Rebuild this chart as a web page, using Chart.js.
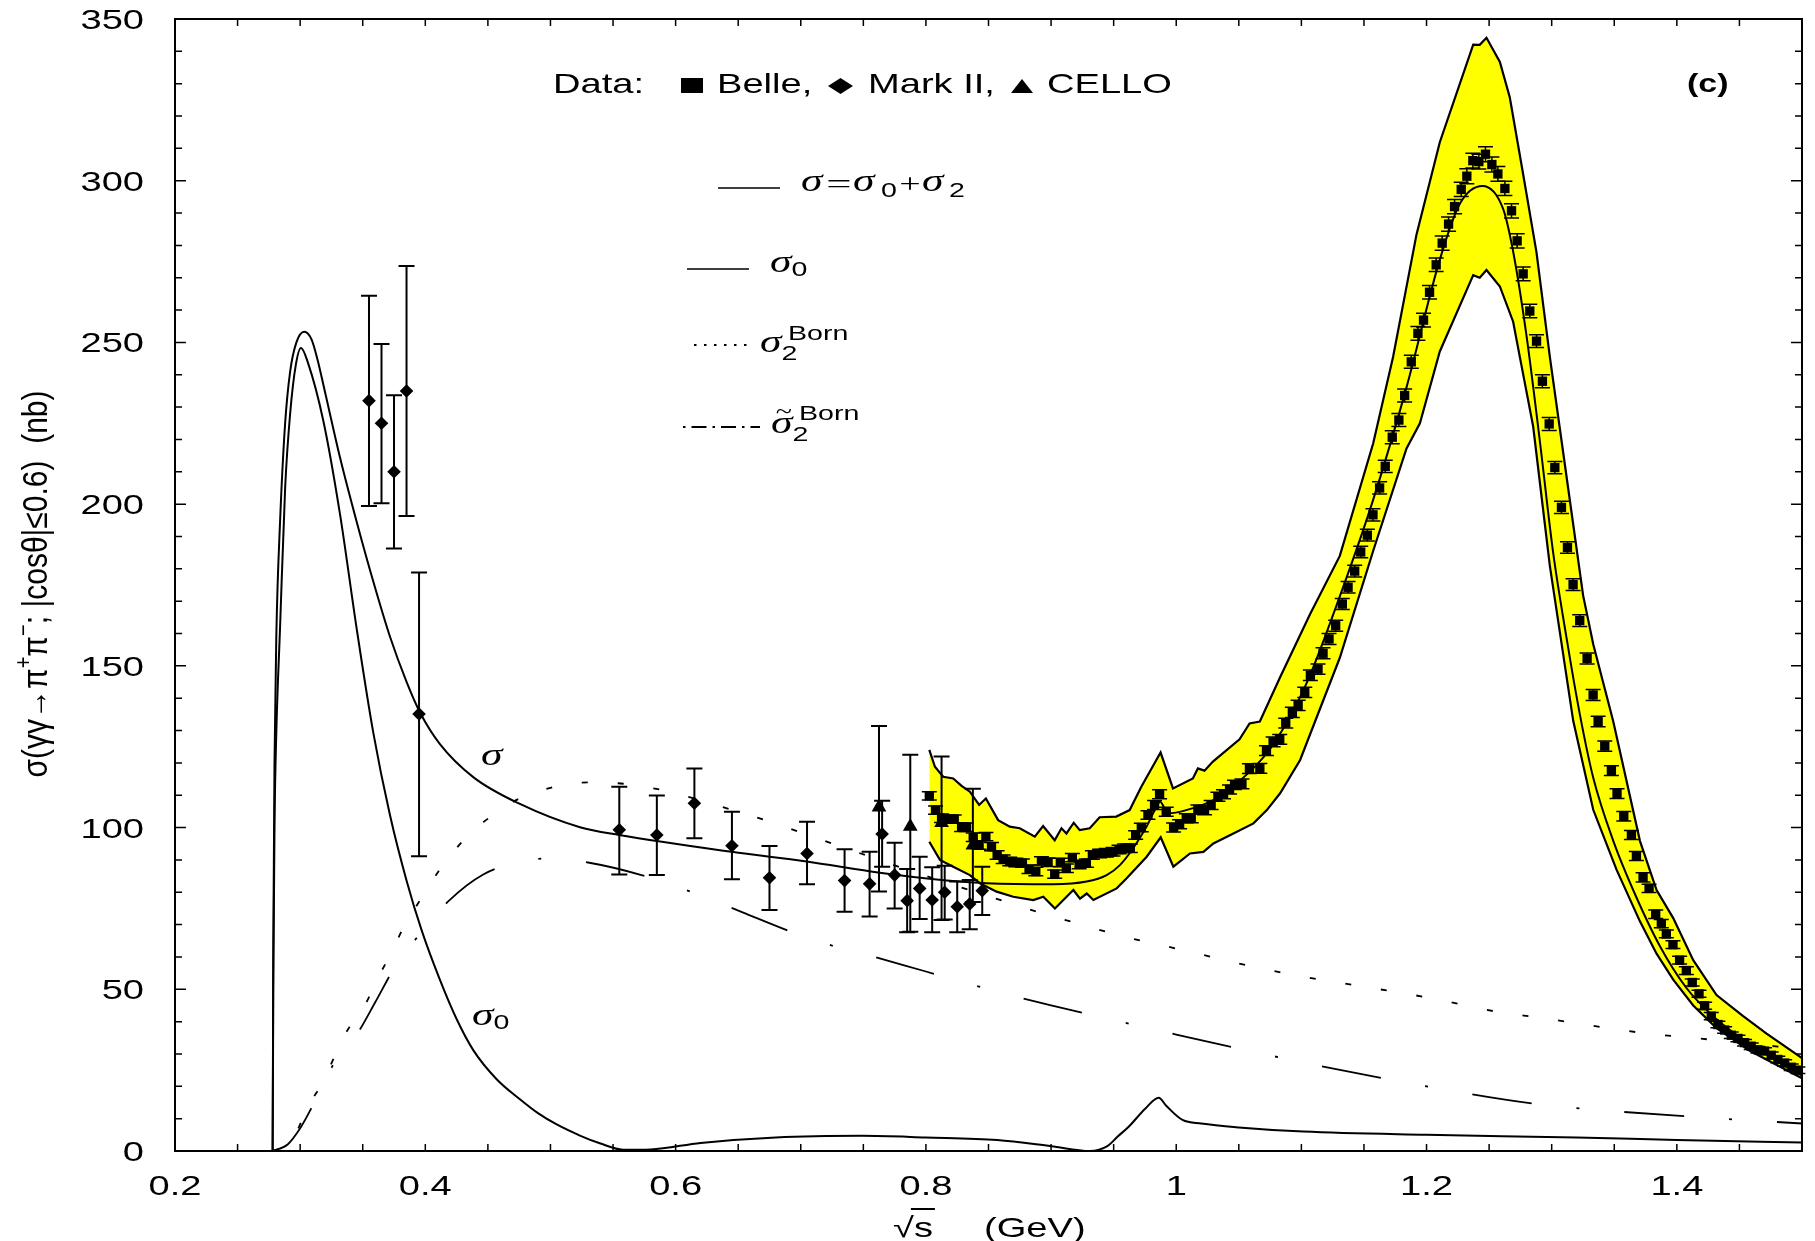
<!DOCTYPE html>
<html lang="en">
<head>
<meta charset="UTF-8">
<title>gamma gamma to pi+ pi- cross section</title>
<script src="https://cdn.jsdelivr.net/npm/chart.js"></script>
<style>
  html, body { margin: 0; padding: 0; background: #fff; }
  canvas { display: block; }
</style>
</head>
<body>
<canvas id="xsec" width="1815" height="1241"></canvas>
<script>
// ---- data (sqrt(s) in GeV, sigma in nb) ----

// Belle points
const belleX = [
  0.8027, 0.8077, 0.8125, 0.8178, 0.8226, 0.8285, 0.8324, 0.8378, 0.8425, 0.8479,
  0.8524, 0.8569, 0.8617, 0.8670, 0.8718, 0.8771, 0.8824, 0.8878, 0.8923, 0.8976,
  0.9029, 0.9074, 0.9122, 0.9170, 0.9224, 0.9282, 0.9330, 0.9388, 0.9442, 0.9495,
  0.9543, 0.9588, 0.9633, 0.9676, 0.9721, 0.9774, 0.9827, 0.9867, 0.9920, 0.9979,
  1.0027, 1.0080, 1.0120, 1.0173, 1.0226, 1.0279, 1.0333, 1.0378, 1.0426, 1.0466,
  1.0525, 1.0585,
  1.0668, 1.0721, 1.0774, 1.0827, 1.0875, 1.0928, 1.0974, 1.1027, 1.1072, 1.1133,
  1.1173, 1.1221, 1.1274, 1.1327, 1.1373, 1.1426, 1.1474, 1.1527, 1.1572, 1.1625,
  1.1670, 1.1726, 1.1779, 1.1825, 1.1878, 1.1931, 1.1976, 1.2024, 1.2077, 1.2125,
  1.2176, 1.2224, 1.2277, 1.2322, 1.2370, 1.2418, 1.2471, 1.2522, 1.2570,
  1.2626, 1.2679, 1.2724, 1.2772, 1.2825, 1.2879, 1.2926, 1.2980, 1.3025, 1.3078,
  1.3126, 1.3171, 1.3224, 1.3283, 1.3331, 1.3371, 1.3424, 1.3477, 1.3522, 1.3576,
  1.3637, 1.3677, 1.3730, 1.3778, 1.3831, 1.3876, 1.3916, 1.3969, 1.4022, 1.4076,
  1.4123, 1.4177, 1.4222, 1.4275, 1.4328, 1.4382, 1.4435, 1.4488, 1.4541, 1.4594,
  1.4648, 1.4701, 1.4754, 1.4807, 1.4861, 1.4914, 1.4967
];
const belleY = [
  109.8, 105.4, 102.9, 102.6, 102.6, 100.1, 100.1, 97.0, 94.6, 97.2,
  94.1, 91.5, 90.2, 89.5, 89.2, 89.0, 87.1, 86.4, 89.7, 89.3,
  85.6, 89.2, 87.4, 90.7, 88.6, 89.0, 91.5, 92.0, 92.2, 92.5,
  93.2, 93.6, 93.6, 97.7, 100.0, 103.9, 107.0, 110.3, 104.9, 100.0,
  101.0, 102.9, 102.9, 105.6, 105.4, 107.0, 109.5, 110.3, 111.8, 113.2,
  113.5, 118.2,
  118.3, 123.8, 126.5, 127.3, 132.3, 135.6, 137.8, 141.8, 147.1, 149.0,
  153.9, 158.3, 162.4, 169.1, 174.3, 179.3, 185.2, 190.4, 196.7, 205.0,
  211.7, 220.7, 226.0, 233.6, 244.0, 252.8, 256.9, 265.5, 274.0, 280.7,
  286.6, 292.0, 297.3, 301.4, 306.2, 305.9, 308.2, 305.0, 302.1,
  297.6, 290.7, 281.4, 271.2, 259.7, 250.4, 238.0, 224.8, 211.3, 199.0,
  186.6, 175.1, 164.0, 152.3, 141.0, 132.8, 125.2, 117.6, 110.5, 103.5,
  97.7, 91.2, 84.6, 81.2, 73.2, 70.3, 67.1, 63.8, 59.0, 55.8,
  52.1, 48.6, 44.9, 41.7, 39.1, 37.4, 35.8, 34.8, 33.5, 32.4,
  31.3, 30.9, 29.6, 28.3, 27.2, 25.9, 25.0
];
const belleErr = [
  1.3, 1.3, 1.3, 1.3, 1.3, 1.3, 1.3, 1.3, 1.3, 1.3,
  1.3, 1.3, 1.3, 1.3, 1.3, 1.3, 1.3, 1.3, 1.3, 1.3,
  1.3, 1.3, 1.3, 1.3, 1.3, 1.3, 1.3, 1.3, 1.3, 1.3,
  1.3, 1.3, 1.3, 1.3, 1.3, 1.3, 1.4, 1.4, 1.4, 1.4,
  1.4, 1.4, 1.4, 1.4, 1.4, 1.4, 1.4, 1.4, 1.4, 1.4,
  1.5, 1.5,
  1.5, 1.5, 1.5, 1.5, 1.5, 1.6, 1.6, 1.6, 1.6, 1.6,
  1.7, 1.7, 1.7, 1.7, 1.8, 1.8, 1.8, 1.8, 1.9, 1.9,
  1.9, 2.0, 2.0, 2.0, 2.0, 2.1, 2.1, 2.1, 2.1, 2.2,
  2.2, 2.2, 2.2, 2.3, 2.3, 2.3, 2.3, 2.3, 2.3,
  2.2, 2.2, 2.2, 2.1, 2.1, 2.0, 2.0, 2.0, 1.9, 1.9,
  1.8, 1.8, 1.8, 1.7, 1.7, 1.6, 1.6, 1.5, 1.5, 1.5,
  1.4, 1.4, 1.4, 1.3, 1.3, 1.3, 1.2, 1.2, 1.2, 1.2,
  1.1, 1.1, 1.1, 1.1, 1.0, 1.0, 1.0, 1.0, 1.0, 1.0,
  1.0, 1.0, 1.0, 1.0, 1.0, 1.0, 1.0
];

// Mark II points
const markX  = [0.355, 0.365, 0.375, 0.385, 0.395, 0.555, 0.585, 0.615, 0.645, 0.675, 0.705,
                0.735, 0.755, 0.765, 0.775, 0.785, 0.795, 0.805, 0.815, 0.825, 0.835, 0.845];
const markY  = [232.0, 225.0, 210.0, 235.0, 135.1, 99.3, 97.7, 107.5, 94.4, 84.5, 92.0,
                83.6, 82.6, 98.0, 85.3, 77.4, 81.2, 77.6, 80.0, 75.5, 76.4, 80.5];
const markHi = [264.4, 249.5, 233.7, 273.6, 178.9, 112.6, 109.9, 118.3, 104.9, 94.3, 101.8,
                93.3, 92.5, 108.3, 95.3, 87.2, 91.0, 87.7, 88.2, 83.3, 83.8, 87.9];
const markLo = [199.4, 200.3, 186.3, 196.3, 91.1, 85.5, 85.3, 96.7, 84.0, 74.5, 82.5,
                74.0, 72.5, 87.9, 75.0, 67.6, 71.7, 67.6, 71.6, 67.6, 68.6, 73.0];

// CELLO points
const celloX  = [0.7625, 0.7875, 0.8125, 0.8375];
const celloY  = [106.3, 100.3, 101.5, 94.5];
const celloHi = [131.4, 122.5, 122.0, 112.0];
const celloLo = [80.2, 67.8, 71.4, 77.0];

// sigma = sigma0 + sigma2
const sigmaX = [0.2, 0.278, 0.2785, 0.2795, 0.281, 0.284, 0.288, 0.292, 0.297, 0.3033, 0.309,
  0.314, 0.3185, 0.3318, 0.3452, 0.3585, 0.3718, 0.3851, 0.3959, 0.4117, 0.4383, 0.4756, 0.5236,
  0.555, 0.6448, 0.7047, 0.7632, 0.8165, 0.8485, 0.9017, 0.9284, 0.9444, 0.955, 0.9656,
  0.9763, 0.9843, 0.987, 0.9936, 1.008, 1.0295, 1.0588, 1.0775, 1.1041, 1.1307, 1.1574,
  1.184, 1.2106, 1.2266, 1.2447, 1.2612, 1.2692, 1.2799, 1.2905, 1.3012, 1.3118, 1.3225,
  1.3332, 1.3492, 1.3651, 1.3864, 1.4077, 1.429, 1.4503, 1.477, 1.5];
const sigmaY = [0, 0, 60, 120, 160, 195, 225, 241, 250, 253.3, 251,
  244.5, 237, 214.5, 194.5, 176, 159, 145, 135.5, 125.8, 115.6, 107.3, 100.1,
  97.7, 92.5, 89.5, 86, 83.6, 82.8, 82.5, 83.3, 85.3, 88.4, 93.6,
  100.3, 106.5, 108, 104.4, 105.4, 108.5, 117.3, 125.7, 144.6, 171.5, 201.4,
  236.1, 275.6, 292.9, 298.4, 291.3, 278.1, 252, 219.6, 184.9, 158.8, 135,
  115.4, 95.9, 80.7, 63.4, 50.4, 41.7, 35.2, 28.7, 23.3];

// sigma0
const sigma0X = [0.2, 0.278, 0.2785, 0.2795, 0.281, 0.2839, 0.288, 0.292, 0.2965, 0.3007, 0.306,
  0.3185, 0.3318, 0.3452, 0.3585, 0.3718, 0.3851, 0.3971, 0.4117, 0.425, 0.4383, 0.457, 0.4756,
  0.49, 0.505, 0.524, 0.54, 0.558, 0.58, 0.62, 0.68, 0.749, 0.8, 0.857, 0.9, 0.931, 0.945,
  0.953, 0.962, 0.975, 0.986, 0.992, 1.005, 1.02, 1.05, 1.1016, 1.2, 1.32, 1.4, 1.5];
const sigma0Y = [0, 0, 50, 100, 130, 161.4, 205, 228, 243, 248.3, 244,
  225.8, 197, 161.4, 129.2, 103.8, 83.5, 68.2, 52.9, 40.8, 31.2, 22.2, 16.0,
  11.7, 8.2, 4.7, 2.3, 0.4, 0.5, 2.5, 4.2, 4.7, 4.2, 3.4, 1.5, 0, 1.5,
  4.4, 7.5, 13, 16.5, 14, 9.6, 8.5, 7.3, 6.0, 5.0, 4.2, 3.4, 2.6];

// sigma2 Born (dotted)
const born2X = [0.278, 0.29, 0.2985, 0.3052, 0.3172, 0.3358, 0.3531, 0.3625, 0.3731, 0.3824,
  0.3944, 0.4059, 0.4192, 0.4352, 0.4548, 0.4743, 0.5, 0.5316, 0.5622, 0.5914, 0.6194,
  0.6473, 0.674, 0.7005, 0.7271, 0.7537, 0.7803, 0.8617, 0.8883, 0.9162, 0.9441, 0.972,
  0.9999, 1.05, 1.1, 1.15, 1.2, 1.26, 1.289, 1.318, 1.348, 1.377, 1.406, 1.436, 1.5];
const born2Y = [0, 2, 7, 13.1, 20.7, 36, 46.1, 53.8, 61.4, 69,
  76.7, 83.8, 91, 97.9, 104.1, 108.8, 112.3, 114.0, 113.4, 111.4, 108.5,
  105.2, 102, 98.4, 94.8, 91.2, 87.6, 77.3, 74, 70.9, 67.8, 65,
  62.6, 58, 54, 50.8, 47.5, 42.8, 41.3, 39.6, 37.8, 36.3, 35.2, 34.1, 31.5];

// tilde sigma2 Born (dash-dot)
const tBorn2X = [0.278, 0.29, 0.3, 0.31, 0.3265, 0.3452, 0.36, 0.3744, 0.3971, 0.4192, 0.4463,
  0.4756, 0.5, 0.53, 0.5728, 0.6194, 0.654, 0.69, 0.71, 0.75, 0.8, 0.85, 0.9, 0.95, 1.0,
  1.1, 1.2, 1.2867, 1.35, 1.42, 1.5];
const tBorn2Y = [0, 2, 7, 14, 26.7, 36, 46, 56, 67.8, 77.5, 85.5,
  89.4, 90.5, 89.2, 85.3, 79.1, 73.7, 68.1, 65.2, 61, 55.5, 50, 45, 40.5, 36,
  27.5, 20, 14.6, 12.3, 10.4, 8.5];

// yellow error band
const bandUpX = [0.8027, 0.8072, 0.8138, 0.8218, 0.8285, 0.8351, 0.8425, 0.8479, 0.8577, 0.867,
  0.875, 0.887, 0.8936, 0.9029, 0.9083, 0.9123, 0.9181, 0.9229, 0.9309, 0.9388, 0.9521,
  0.9628, 0.9721, 0.9875, 0.9974, 1.0133, 1.0173, 1.0226, 1.0293, 1.0506, 1.0586, 1.0668,
  1.0828, 1.1068, 1.1307, 1.1574, 1.1733, 1.192, 1.2106, 1.2373, 1.2425, 1.2479, 1.2586,
  1.2665, 1.2772, 1.2878, 1.2985, 1.3118, 1.3251, 1.3332, 1.3492, 1.3705, 1.3838, 1.3971,
  1.4131, 1.4317, 1.453, 1.4717, 1.5];
const bandUpY = [124.0, 118.8, 115.7, 115.2, 112.9, 111.1, 107.0, 109.0, 102.3, 100.3,
  99.8, 97.2, 100.5, 96.1, 99.8, 98.2, 101.5, 99.2, 99.8, 103.2, 103.4,
  105.4, 112.6, 123.2, 112.1, 115.2, 118.3, 117.6, 120.4, 127.3, 132.2, 132.8,
  146.3, 165.9, 184.0, 218.8, 245.6, 283.4, 311.9, 342.1, 342.0, 344.2, 336.7,
  325.8, 302.0, 278.0, 245.6, 208.7, 171.8, 156.7, 132.8, 95.9, 80.7, 72.0,
  59.0, 48.2, 41.7, 36.3, 28.7];
const bandLoX = [0.8027, 0.8112, 0.8218, 0.8351, 0.8431, 0.8565, 0.8698, 0.8858, 0.8938, 0.9031,
  0.9098, 0.9178, 0.9231, 0.9285, 0.9338, 0.9524, 0.9604, 0.9764, 0.9876, 0.9977, 1.011,
  1.0217, 1.0297, 1.0457, 1.0617, 1.0724, 1.083, 1.099, 1.1041, 1.1307, 1.1574, 1.184,
  1.1947, 1.2106, 1.2373, 1.2425, 1.2479, 1.2586, 1.2692, 1.2745, 1.2852, 1.2985, 1.3172,
  1.3332, 1.3518, 1.3705, 1.3838, 1.3971, 1.4131, 1.4317, 1.4583, 1.5];
const bandLoY = [95.6, 90.0, 87.9, 85.3, 82.8, 80.2, 78.6, 77.6, 78.6, 75.0,
  77.6, 80.7, 78.0, 79.6, 77.6, 81.2, 84.3, 91.0, 97.0, 87.9, 92.0,
  92.5, 95.1, 98.2, 101.3, 105.4, 110.6, 120.9, 126.0, 152.5, 185.6, 217.2,
  225.0, 247.2, 270.8, 270.0, 272.4, 267.3, 256.4, 245.6, 224.0, 181.0, 133.0,
  105.5, 87.0, 71.0, 61.0, 53.0, 45.0, 38.0, 31.0, 22.5];

// axis ticks
const xTickValues = [0.2, 0.4, 0.6, 0.8, 1.0, 1.2, 1.4];
const xTickLabels = ['0.2', '0.4', '0.6', '0.8', '1', '1.2', '1.4'];
const yTickValues = [0, 50, 100, 150, 200, 250, 300, 350];
const yTickLabels = ['0', '50', '100', '150', '200', '250', '300', '350'];

// ---- drawing ----
const SX = 1.36; // the original figure is stretched horizontally
const SANS = '"Liberation Sans", Arial, sans-serif';
const SERIF = '"Liberation Serif", "Times New Roman", serif';

function pts(xs, ys) {
  return xs.map((x, i) => ({ x: x, y: ys[i] }));
}

function wideText(ctx, str, x, y, font, align, sx) {
  const k = sx || SX;
  ctx.save();
  ctx.font = font;
  const w = ctx.measureText(str).width * k;
  let x0 = x;
  if (align === 'center') x0 = x - w / 2;
  else if (align === 'right') x0 = x - w;
  ctx.translate(x0, y);
  ctx.scale(k, 1);
  ctx.textAlign = 'left';
  ctx.textBaseline = 'alphabetic';
  ctx.fillStyle = '#000';
  ctx.fillText(str, 0, 0);
  ctx.restore();
  return w;
}

const errorBars = {
  id: 'errorBars',
  afterDatasetsDraw(chart) {
    const { ctx, scales: { x, y } } = chart;
    ctx.save();
    ctx.strokeStyle = '#000';
    function bar(xv, lo, hi, half, lw) {
      const px = x.getPixelForValue(xv);
      const p1 = y.getPixelForValue(lo), p2 = y.getPixelForValue(hi);
      ctx.lineWidth = lw;
      ctx.beginPath();
      ctx.moveTo(px, p1); ctx.lineTo(px, p2);
      ctx.moveTo(px - half, p1); ctx.lineTo(px + half, p1);
      ctx.moveTo(px - half, p2); ctx.lineTo(px + half, p2);
      ctx.stroke();
    }
    belleX.forEach((v, i) => bar(v, belleY[i] - belleErr[i], belleY[i] + belleErr[i], 7.5, 1.5));
    markX.forEach((v, i) => bar(v, markLo[i], markHi[i], 8, 2));
    celloX.forEach((v, i) => bar(v, celloLo[i], celloHi[i], 8, 2));
    ctx.restore();
  }
};

const frameAndText = {
  id: 'frameAndText',
  afterDraw(chart) {
    const { ctx, chartArea: a, scales: { x, y } } = chart;
    ctx.save();
    ctx.strokeStyle = '#000';
    ctx.lineWidth = 2;
    ctx.strokeRect(a.left, a.top, a.right - a.left, a.bottom - a.top);

    // inward ticks on all four sides
    ctx.lineWidth = 1.5;
    ctx.beginPath();
    for (let i = 4; i <= 30; i++) {
      const px = x.getPixelForValue(i / 20);
      ctx.moveTo(px, a.bottom); ctx.lineTo(px, a.bottom - 7);
      ctx.moveTo(px, a.top); ctx.lineTo(px, a.top + 7);
    }
    for (let i = 0; i <= 35; i++) {
      const py = y.getPixelForValue(i * 10);
      const len = i % 5 === 0 ? 11 : 7;
      ctx.moveTo(a.left, py); ctx.lineTo(a.left + len, py);
      ctx.moveTo(a.right, py); ctx.lineTo(a.right - len, py);
    }
    ctx.stroke();

    // tick labels
    const tickFont = '28px ' + SANS;
    xTickValues.forEach((v, i) => wideText(ctx, xTickLabels[i], x.getPixelForValue(v), a.bottom + 44, tickFont, 'center'));
    yTickValues.forEach((v, i) => wideText(ctx, yTickLabels[i], a.left - 31, y.getPixelForValue(v) + 10, tickFont, 'right'));

    // x title
    const tf = '28px ' + SANS;
    const wRoot = wideText(ctx, '√', 893, 1237, tf, 'left');
    const wS = wideText(ctx, 's', 893 + wRoot, 1237, tf, 'left');
    ctx.lineWidth = 2;
    ctx.beginPath();
    ctx.moveTo(893 + wRoot - 3, 1209); ctx.lineTo(893 + wRoot + wS + 2, 1209);
    ctx.stroke();
    wideText(ctx, '(GeV)', 984, 1237, tf, 'left');

    // y title (rotated)
    ctx.save();
    ctx.translate(47, 584);
    ctx.rotate(-Math.PI / 2);
    ctx.scale(1, 1.15);
    ctx.fillStyle = '#000';
    ctx.textBaseline = 'alphabetic';
    const yParts = [
      { t: 'σ(γγ→π', f: '30px ' + SANS, dy: 0 },
      { t: '+', f: '20px ' + SANS, dy: -14 },
      { t: 'π', f: '30px ' + SANS, dy: 0 },
      { t: '−', f: '20px ' + SANS, dy: -14 },
      { t: '; |cosθ|≤0.6)  (nb)', f: '30px ' + SANS, dy: 0 }
    ];
    let total = 0;
    yParts.forEach(p => { ctx.font = p.f; total += ctx.measureText(p.t).width; });
    let cx = -total / 2;
    yParts.forEach(p => { ctx.font = p.f; ctx.fillText(p.t, cx, p.dy); cx += ctx.measureText(p.t).width; });
    ctx.restore();

    // data legend line
    const lf = '28px ' + SANS;
    wideText(ctx, 'Data:', 553, 93, lf, 'left');
    ctx.fillStyle = '#000';
    ctx.fillRect(681, 78, 22, 15);
    wideText(ctx, 'Belle,', 717, 93, lf, 'left');
    ctx.beginPath();
    ctx.moveTo(828, 86); ctx.lineTo(840.5, 78); ctx.lineTo(853, 86); ctx.lineTo(840.5, 94);
    ctx.closePath(); ctx.fill();
    wideText(ctx, 'Mark II,', 868, 93, lf, 'left');
    ctx.beginPath();
    ctx.moveTo(1011, 93); ctx.lineTo(1022, 79); ctx.lineTo(1033, 93);
    ctx.closePath(); ctx.fill();
    wideText(ctx, 'CELLO', 1047, 93, lf, 'left');
    wideText(ctx, '(c)', 1687, 92, 'bold 25px ' + SANS, 'left');

    // curve legend
    const sig = 'italic 32px ' + SERIF;
    const sub = '21px ' + SANS;
    ctx.lineWidth = 1.5;
    ctx.setLineDash([]);
    ctx.beginPath();
    ctx.moveTo(718, 188); ctx.lineTo(780, 188);
    ctx.moveTo(687, 269); ctx.lineTo(749, 269);
    ctx.stroke();
    // sigma = sigma0 + sigma2, pieces placed as in the figure
    wideText(ctx, 'σ', 801, 191, sig, 'left');
    wideText(ctx, '=', 839, 193, '28px ' + SERIF, 'center', 1.6);
    wideText(ctx, 'σ', 853, 191, sig, 'left');
    wideText(ctx, '0', 881, 197, sub, 'left');
    wideText(ctx, '+', 910, 193, '28px ' + SERIF, 'center');
    wideText(ctx, 'σ', 922, 191, sig, 'left');
    wideText(ctx, '2', 949, 197, sub, 'left');

    const w2 = wideText(ctx, 'σ', 770, 272, sig, 'left');
    wideText(ctx, '0', 770 + w2, 276, sub, 'left');

    ctx.lineWidth = 2;
    ctx.setLineDash([2.5, 7.5]);
    ctx.beginPath(); ctx.moveTo(694, 345); ctx.lineTo(748, 345); ctx.stroke();
    ctx.setLineDash([2.5, 6, 15, 6]);
    ctx.beginPath(); ctx.moveTo(683, 427); ctx.lineTo(760, 427); ctx.stroke();
    ctx.setLineDash([]);
    const ws = wideText(ctx, 'σ', 760, 352, sig, 'left');
    wideText(ctx, '2', 760 + ws, 360, sub, 'left');
    wideText(ctx, 'Born', 788, 340, sub, 'left');
    const wt = wideText(ctx, 'σ', 771, 433, sig, 'left');
    wideText(ctx, '~', 771 + wt / 2 + 2, 418, '22px ' + SERIF, 'center');
    wideText(ctx, '2', 771 + wt, 441, sub, 'left');
    wideText(ctx, 'Born', 799, 420, sub, 'left');

    // labels on the curves
    wideText(ctx, 'σ', 481, 765, sig, 'left');
    const w0 = wideText(ctx, 'σ', 472, 1025, sig, 'left');
    wideText(ctx, '0', 472 + w0, 1029, sub, 'left');
    ctx.restore();
  }
};

function curve(label, xs, ys, extra) {
  return Object.assign({
    label: label,
    data: pts(xs, ys),
    showLine: true,
    pointRadius: 0,
    borderColor: '#000',
    borderWidth: 2,
    cubicInterpolationMode: 'monotone',
    fill: false,
    order: 5
  }, extra || {});
}

new Chart(document.getElementById('xsec'), {
  type: 'scatter',
  data: {
    datasets: [
      { label: 'Belle', data: pts(belleX, belleY), pointStyle: 'rect', pointRadius: 6.6,
        backgroundColor: '#000', borderWidth: 0, order: 1 },
      { label: 'Mark II', data: pts(markX, markY), pointStyle: 'rectRot', pointRadius: 6.8,
        backgroundColor: '#000', borderWidth: 0, order: 1 },
      { label: 'CELLO', data: pts(celloX, celloY), pointStyle: 'triangle', pointRadius: 8.5,
        backgroundColor: '#000', borderWidth: 0, order: 1 },
      curve('sigma', sigmaX, sigmaY),
      curve('sigma0', sigma0X, sigma0Y),
      curve('sigma2 Born', born2X, born2Y, { borderDash: [6, 30], borderWidth: 1.8 }),
      curve('tilde sigma2 Born', tBorn2X, tBorn2Y, { borderDash: [60, 45, 3, 45], borderWidth: 1.8 }),
      curve('band upper', bandUpX, bandUpY, { cubicInterpolationMode: 'default', tension: 0,
        borderWidth: 2.2, fill: '+1', backgroundColor: '#ffff00', order: 10 }),
      curve('band lower', bandLoX, bandLoY, { cubicInterpolationMode: 'default', tension: 0,
        borderWidth: 2.2, order: 10 })
    ]
  },
  options: {
    responsive: false,
    animation: false,
    events: [],
    layout: { padding: { top: 19, right: 13, left: 0, bottom: 0 }, autoPadding: false },
    plugins: {
      legend: { display: false },
      tooltip: { enabled: false },
      filler: { drawTime: 'beforeDatasetsDraw' }
    },
    scales: {
      x: {
        type: 'linear', min: 0.2, max: 1.5,
        ticks: { display: false, stepSize: 0.2 },
        grid: { display: false }, border: { display: false },
        afterFit: s => { s.height = 90; }
      },
      y: {
        type: 'linear', min: 0, max: 350,
        ticks: { display: false, stepSize: 50 },
        grid: { display: false }, border: { display: false },
        afterFit: s => { s.width = 175; }
      }
    }
  },
  plugins: [errorBars, frameAndText]
});
</script>
</body>
</html>
